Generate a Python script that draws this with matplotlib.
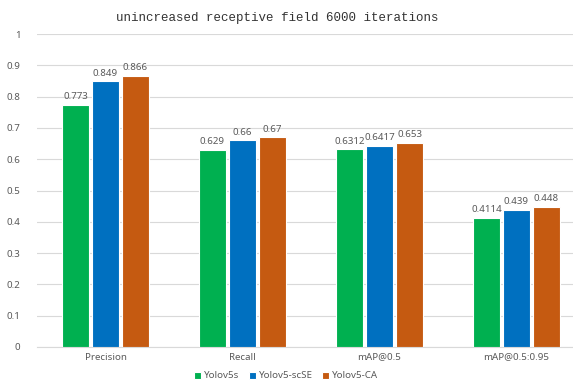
import matplotlib.pyplot as plt
import numpy as np

categories = ['Precision', 'Recall', 'mAP@0.5', 'mAP@0.5:0.95']
series_names = ['Yolov5s', 'Yolov5-scSE', 'Yolov5-CA']
yolov5s = [0.773, 0.629, 0.6312, 0.4114]
yolov5_scse = [0.849, 0.66, 0.6417, 0.439]
yolov5_ca = [0.866, 0.67, 0.653, 0.448]
yticks = [0, 0.1, 0.2, 0.3, 0.4, 0.5, 0.6, 0.7, 0.8, 0.9, 1]
ytick_labels = ['0', '0.1', '0.2', '0.3', '0.4', '0.5', '0.6', '0.7', '0.8', '0.9', '1']

colors = ['#00B050', '#0070C0', '#C55A11']
text_color = '#595959'
grid_color = '#D9D9D9'

plt.rcParams['font.family'] = ['Noto Sans', 'DejaVu Sans']

fig = plt.figure(figsize=(5.73, 3.81), dpi=100)
ax = fig.add_axes([37/573, 1 - 347/381, 548/573, 313/381])

x = np.arange(len(categories))
offset = 0.219
width = 0.19
for i, (vals, name) in enumerate(zip([yolov5s, yolov5_scse, yolov5_ca], series_names)):
    pos = x + (i - 1) * offset
    bars = ax.bar(pos, vals, width, color=colors[i], edgecolor='white',
                  linewidth=0.8, label=name, zorder=3)
    for b, v in zip(bars, vals):
        ax.text(b.get_x() + b.get_width() / 2, v + 0.012, f'{v:g}',
                ha='center', va='bottom', fontsize=7, color=text_color)

ax.set_xlim(-0.5, len(categories) - 0.5)
ax.set_ylim(0, 1)
ax.set_yticks(yticks)
ax.set_yticklabels(ytick_labels)
ax.set_xticks(x)
ax.set_xticklabels(categories)
ax.tick_params(axis='both', length=0, colors=text_color, labelsize=7)
ax.tick_params(axis='y', pad=12)
ax.tick_params(axis='x', pad=4)
ax.grid(axis='y', color=grid_color, linewidth=0.8, zorder=0)
for s in ['top', 'right', 'left']:
    ax.spines[s].set_visible(False)
ax.spines['bottom'].set_color(grid_color)
ax.spines['bottom'].set_linewidth(0.8)

fig.text(277/573, 1 - 18/381, 'unincreased receptive field 6000 iterations',
         ha='center', va='center', fontsize=9, family='Liberation Mono',
         color='#333333')

fig.legend(loc='center', bbox_to_anchor=(286/573, 1 - 376/381), ncol=3,
           frameon=False, fontsize=7, labelcolor=text_color, handlelength=0.7,
           handleheight=0.7, handletextpad=0.3, columnspacing=1.0)

fig.savefig('out.png', dpi=100)
